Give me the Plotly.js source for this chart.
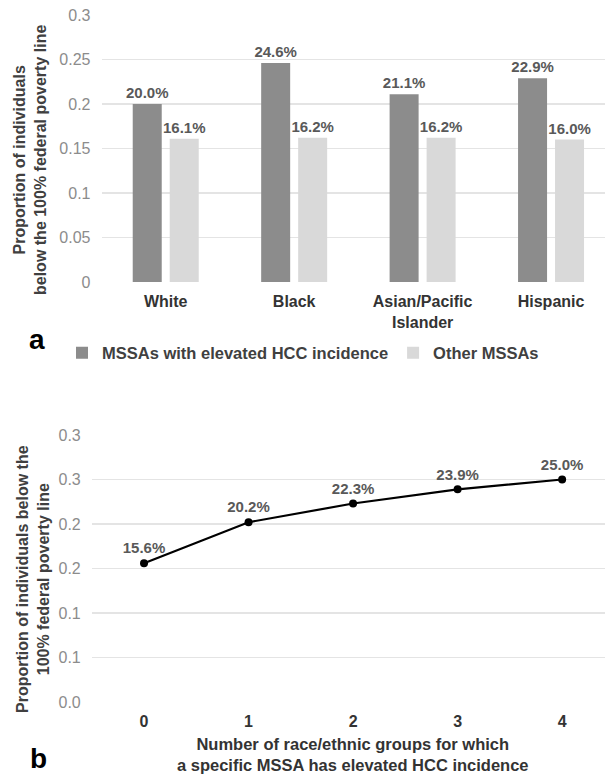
<!DOCTYPE html>
<html><head><meta charset="utf-8">
<script src="https://cdn.plot.ly/plotly-3.0.1.min.js"></script>
<style>html,body{margin:0;padding:0;background:#fff;overflow:hidden}</style>
</head><body><div id="chart" style="width:605px;height:777px"></div>
<script>
// ---- data ----
const groups = ['White', 'Black', 'Asian/Pacific<br>Islander', 'Hispanic'];
const elevatedMSSA = [0.200, 0.246, 0.211, 0.229];
const otherMSSA = [0.161, 0.162, 0.162, 0.160];
const seriesNames = ['MSSAs with elevated HCC incidence', 'Other MSSAs'];
const groupCounts = [0, 1, 2, 3, 4];
const povertyByCount = [0.156, 0.202, 0.223, 0.239, 0.250];
const bTickVals = [0, 0.05, 0.10, 0.15, 0.20, 0.25, 0.30];
const bTickText = ['0.0', '0.1', '0.1', '0.2', '0.2', '0.3', '0.3'];
const yTitleA = 'Proportion of individuals<br>below the 100% federal poverty line';
const yTitleB = 'Proportion of individuals below the<br>100% federal poverty line';
const xTitleB = 'Number of race/ethnic groups for which<br>a specific MSSA has elevated HCC incidence';

// ---- layout helpers ----
const W = 605, H = 777;
const px = v => v / W;
const py = v => 1 - v / H;
const FONT = '"Liberation Sans", Arial, sans-serif';
const labelFont = {family: FONT, size: 15, color: '#595959', weight: 'bold'};
const gridColor = '#e4e4e4';

const traces = [
  {type: 'bar', name: seriesNames[0], x: groups, y: elevatedMSSA, xaxis: 'x', yaxis: 'y',
   marker: {color: '#8c8c8c'}, texttemplate: '%{y:.1%}', textposition: 'outside',
   textfont: labelFont, cliponaxis: false, constraintext: 'none', hoverinfo: 'skip'},
  {type: 'bar', name: seriesNames[1], x: groups, y: otherMSSA, xaxis: 'x', yaxis: 'y',
   marker: {color: '#d9d9d9'}, texttemplate: '%{y:.1%}', textposition: 'outside',
   textfont: labelFont, cliponaxis: false, constraintext: 'none', hoverinfo: 'skip'},
  {type: 'scatter', mode: 'lines+markers+text', x: groupCounts, y: povertyByCount,
   xaxis: 'x2', yaxis: 'y2', showlegend: false,
   line: {color: '#000000', width: 2.2}, marker: {color: '#000000', size: 8},
   texttemplate: '%{y:.1%}', textposition: 'top center', textfont: labelFont,
   cliponaxis: false, hoverinfo: 'skip'}
];

const layout = {
  width: W, height: H, autosize: false,
  margin: {l: 0, r: 0, t: 0, b: 0},
  paper_bgcolor: '#ffffff', plot_bgcolor: '#ffffff',
  font: {family: FONT, color: '#404040'},
  barmode: 'group', bargap: 0.424, bargroupgap: 0.216,
  showlegend: true,
  legend: {orientation: 'h', x: px(62), xanchor: 'left', y: py(353), yanchor: 'middle',
           font: {family: FONT, size: 16.5, color: '#404040', weight: 'bold'},
           bgcolor: 'rgba(0,0,0,0)'},
  xaxis: {domain: [px(101.5), 1], anchor: 'y', type: 'category', range: [-0.5, 3.42],
          showgrid: false, zeroline: false, showline: false, ticks: '',
          tickfont: {family: FONT, size: 16, color: '#333333', weight: 'bold'},
          ticklabelstandoff: 8, automargin: false, fixedrange: true},
  yaxis: {domain: [py(282), py(15)], anchor: 'x', range: [0, 0.3], tick0: 0, dtick: 0.05,
          showgrid: true, gridcolor: gridColor, gridwidth: 1.5, zeroline: false, showline: false,
          ticks: '', tickfont: {family: FONT, size: 16, color: '#8c8c8c'},
          ticklabelstandoff: 10, automargin: false, fixedrange: true},
  xaxis2: {domain: [px(91.75), 1], anchor: 'y2', range: [-0.5, 4.41], tickvals: groupCounts,
           showgrid: false, zeroline: false, showline: false, ticks: '',
           tickfont: {family: FONT, size: 16, color: '#333333', weight: 'bold'},
           ticklabelstandoff: 8, automargin: false, fixedrange: true},
  yaxis2: {domain: [py(702), py(435)], anchor: 'x2', range: [0, 0.3],
           tickvals: bTickVals, ticktext: bTickText,
           showgrid: true, gridcolor: gridColor, gridwidth: 1.5, zeroline: false, showline: false,
           ticks: '', tickfont: {family: FONT, size: 16, color: '#8c8c8c'},
           ticklabelstandoff: 10, automargin: false, fixedrange: true},
  annotations: [
    {text: yTitleA, xref: 'paper', yref: 'paper', x: px(30), y: py(160), textangle: -90,
     xanchor: 'center', yanchor: 'middle', showarrow: false,
     font: {family: FONT, size: 16, color: '#404040', weight: 'bold'}},
    {text: yTitleB, xref: 'paper', yref: 'paper', x: px(33), y: py(579), textangle: -90,
     xanchor: 'center', yanchor: 'middle', showarrow: false,
     font: {family: FONT, size: 16, color: '#404040', weight: 'bold'}},
    {text: xTitleB, xref: 'x2', yref: 'paper', x: 2, y: py(754),
     xanchor: 'center', yanchor: 'middle', showarrow: false,
     font: {family: FONT, size: 16.5, color: '#333333', weight: 'bold'}},
    {text: 'a', xref: 'paper', yref: 'paper', x: px(37), y: py(340), xanchor: 'center', yanchor: 'middle',
     showarrow: false, font: {family: FONT, size: 28, color: '#000000', weight: 'bold'}},
    {text: 'b', xref: 'paper', yref: 'paper', x: px(38), y: py(758), xanchor: 'center', yanchor: 'middle',
     showarrow: false, font: {family: FONT, size: 28, color: '#000000', weight: 'bold'}}
  ]
};

Plotly.newPlot('chart', traces, layout, {staticPlot: true, displayModeBar: false});
</script>
</body></html>
